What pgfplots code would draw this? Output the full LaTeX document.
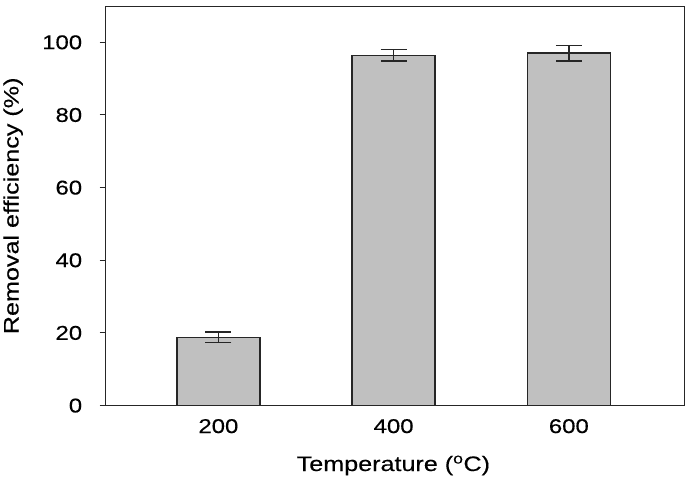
\documentclass[border=0pt]{standalone}
\usepackage{pgfplots}
\pgfplotsset{compat=1.18}
\usepackage{fontspec}
\setmainfont[FakeStretch=1.2, FakeBold=0.3]{Liberation Sans}
\definecolor{barfill}{RGB}{192,192,192}
\definecolor{edge}{RGB}{38,38,38}
\begin{document}
\begin{tikzpicture}
\begin{axis}[
  scale only axis, width=578bp, height=399bp,
  ybar, bar width=83bp,
  xmin=-0.643, xmax=2.66, ymin=0, ymax=110,
  ytick={0,20,...,100},
  xtick={0,1,2}, xticklabels={200,400,600},
  tick align=outside, major tick length=6bp,
  x tick style={draw=none},
  y tick style={line width=1pt, edge},
  ytick pos=left,
  axis line style={line width=1pt, edge},
  tick label style={font=\fontsize{20}{24}\selectfont},
  /pgf/number format/assume math mode=true,
  yticklabel style={xshift=-14bp},
  xticklabel style={yshift=-4bp},
  ylabel={Removal efficiency (\%)},
  xlabel={Temperature (\textsuperscript{o}C)},
  every axis y label/.style={at={(axis description cs:-0.16,0.5)}, rotate=90, anchor=center,
    font=\fontsize{21}{25}\selectfont},
  every axis x label/.style={at={(axis description cs:0.497,-0.15)}, anchor=center,
    font=\fontsize{21}{25}\selectfont},
]
\addplot[fill=barfill, draw=edge, line width=1.5pt,
  error bars/.cd, y dir=both, y explicit,
  error bar style={line width=1.5pt, edge},
  error mark options={rotate=90, mark size=13bp, line width=1.5pt, edge}]
  coordinates {(0,18.8) +- (0,1.4) (1,96.4) +- (0,1.6) (2,97.0) +- (0,2.1)};
\end{axis}
\end{tikzpicture}
\end{document}
